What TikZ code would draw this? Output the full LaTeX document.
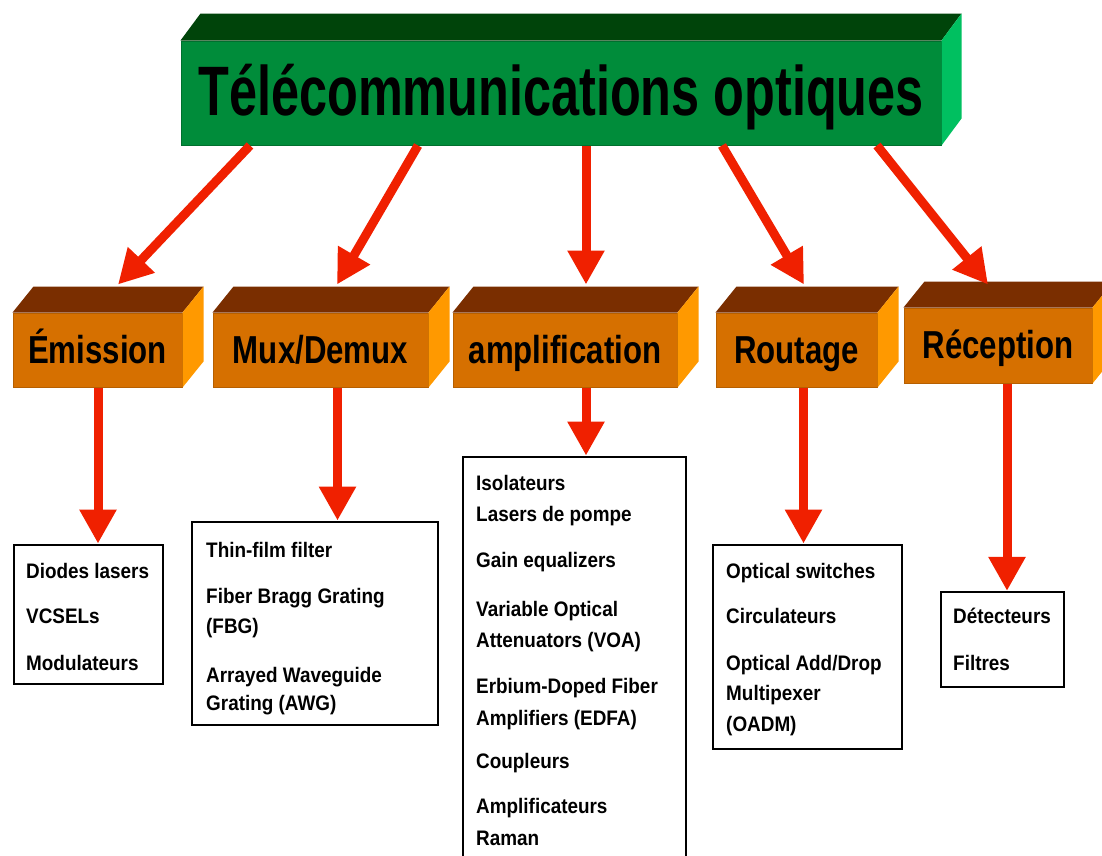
\documentclass[tikz,border=0pt]{standalone}
\usepackage{fontspec}
\setmainfont{Liberation Sans}
\newfontfamily\titlefont{Liberation Sans}[FakeStretch=0.72]
\newfontfamily\catfont{Liberation Sans}[FakeStretch=0.8]
\newfontfamily\itemfont{Liberation Sans}[FakeStretch=0.9]
\usetikzlibrary{arrows.meta,calc}
\definecolor{gfront}{RGB}{0,140,58}
\definecolor{gtop}{RGB}{0,68,10}
\definecolor{gside}{RGB}{0,192,96}
\definecolor{ofront}{RGB}{214,112,0}
\definecolor{otop}{RGB}{122,46,0}
\definecolor{oside}{RGB}{255,153,0}
\definecolor{arrred}{RGB}{240,32,0}
\begin{document}
\begin{tikzpicture}[x=1pt,y=-1pt,
  titlebox/.style={fill=gfront, draw=gfront!80!black, line width=1pt, inner sep=0pt,
    minimum width=760pt, minimum height=104pt, text height=52pt, text depth=8pt,
    font=\titlefont\bfseries\fontsize{70}{84}\selectfont},
  catbox/.style={fill=ofront, draw=ofront!85!black, line width=1pt, inner sep=0pt,
    minimum height=74pt, text height=30pt, text depth=4pt,
    font=\catfont\bfseries\fontsize{39}{47}\selectfont},
  listbox/.style={draw=black, line width=2.8pt, fill=white, inner sep=0pt},
  listitem/.style={anchor=base west, inner sep=0pt,
    font=\itemfont\bfseries\fontsize{21}{25}\selectfont},
  arr/.style={draw=arrred, line width=9pt, -{Triangle[length=34pt,width=35pt]}},
]
\fill[white] (0,0) rectangle (1102,855);
\useasboundingbox (0,0) rectangle (1102,855);

% title box
\node[titlebox] (title) at (561,93) {Télécommunications optiques};

% category boxes
\node[catbox, minimum width=169pt] (emi) at (97.5,350) {Émission};
\node[catbox, minimum width=215pt] (mux) at (320.5,350) {Mux/Demux};
\node[catbox, minimum width=224pt] (amp) at (565,350) {amplification};
\node[catbox, minimum width=161pt] (rou) at (796.5,350) {Routage};
\node[catbox, minimum width=188pt, minimum height=75pt] (rec) at (998,345.5) {Réception};

% 3D faces
\foreach \n/\dx/\dy/\tc/\sc in {title/20/27/gtop/gside, emi/21/26/otop/oside,
    mux/21/26/otop/oside, amp/21/26/otop/oside, rou/21/26/otop/oside, rec/21/26/otop/oside} {
  \fill[\tc] (\n.north west) -- ++(\dx,-\dy) -- ([shift={(\dx,-\dy)}]\n.north east) -- (\n.north east) -- cycle;
  \fill[\sc] (\n.north east) -- ++(\dx,-\dy) -- ([shift={(\dx,-\dy)}]\n.south east) -- (\n.south east) -- cycle;
}

% list boxes
\node[listbox, minimum width=149pt, minimum height=139pt] (b1) at (88.5,614.5) {};
\node[listbox, minimum width=246pt, minimum height=203pt] (b2) at (315,623.5) {};
\node[listbox, minimum width=223pt, minimum height=423pt] (b3) at (574.5,668.5) {};
\node[listbox, minimum width=189pt, minimum height=204pt] (b4) at (807.5,647) {};
\node[listbox, minimum width=123pt, minimum height=95pt, line width=2.2pt] (b5) at (1002.5,639.5) {};

\foreach \t/\y [count=\i] in {{Diodes lasers}/578, {VCSELs}/623, {Modulateurs}/670}
  \node[listitem] (b1t\i) at (26,\y) {\t};
\foreach \t/\y [count=\i] in {{Thin-film filter}/557, {Fiber Bragg Grating}/603, {(FBG)}/633,
    {Arrayed Waveguide}/682, {Grating (AWG)}/710}
  \node[listitem] (b2t\i) at (206,\y) {\t};
\foreach \t/\y [count=\i] in {{Isolateurs}/490, {Lasers de pompe}/521, {Gain equalizers}/567,
    {Variable Optical}/616, {Attenuators (VOA)}/647, {Erbium-Doped Fiber}/693,
    {Amplifiers (EDFA)}/725, {Coupleurs}/768, {Amplificateurs}/813, {Raman}/845}
  \node[listitem] (b3t\i) at (476,\y) {\t};
\foreach \t/\y [count=\i] in {{Optical switches}/578, {Circulateurs}/623, {Optical Add/Drop}/670,
    {Multipexer}/700, {(OADM)}/731}
  \node[listitem] (b4t\i) at (726,\y) {\t};
\foreach \t/\y [count=\i] in {{Détecteurs}/623, {Filtres}/670}
  \node[listitem] (b5t\i) at (953,\y) {\t};

% arrows from title to categories
\draw[arr] ([xshift=-311pt]title.south) -- ([xshift=20.5pt,yshift=28pt]emi.north);
\draw[arr] ([xshift=-143pt]title.south) -- ([xshift=16.5pt,yshift=28pt]mux.north);
\draw[arr] ([xshift=25pt]title.south) -- ([xshift=21pt,yshift=28pt]amp.north);
\draw[arr] ([xshift=161pt]title.south) -- ([xshift=7.5pt,yshift=28pt]rou.north);
\draw[arr] ([xshift=316pt]title.south) -- ([xshift=-10pt,yshift=23pt]rec.north);

% arrows from categories to lists
\draw[arr] ([xshift=0.5pt]emi.south) -- ([xshift=0.5pt]emi.south |- b1.north);
\draw[arr] ([xshift=17pt]mux.south) -- ([xshift=17pt]mux.south |- b2.north);
\draw[arr] ([xshift=21pt]amp.south) -- ([xshift=21pt]amp.south |- b3.north);
\draw[arr] ([xshift=7pt]rou.south) -- ([xshift=7pt]rou.south |- b4.north);
\draw[arr] ([xshift=9pt]rec.south) -- ([xshift=9pt]rec.south |- b5.north);
\end{tikzpicture}
\end{document}
